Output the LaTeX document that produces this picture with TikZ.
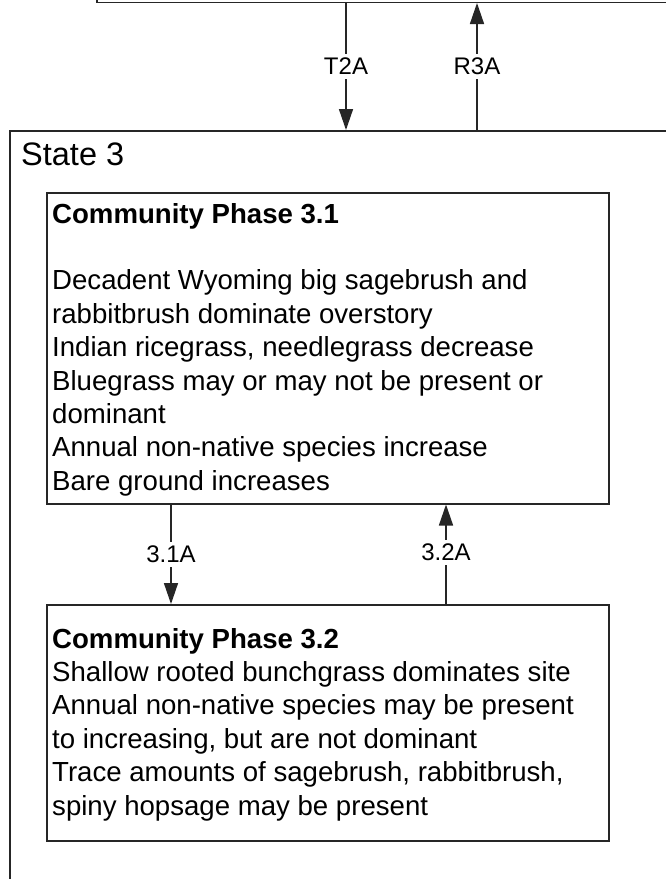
\documentclass[tikz,border=0pt]{standalone}
\usepackage{fontspec}
\setmainfont{Liberation Sans}
\usetikzlibrary{arrows.meta}
\tikzset{
  frame/.style={draw=black!85, line width=1.5pt, inner sep=0pt},
  body/.style={anchor=north west, align=left, inner sep=0pt,
    font=\fontsize{27.6}{33.4}\selectfont},
  arr/.style={draw=black!85, line width=1.5pt, -{Triangle[length=21pt,width=14pt]}},
  lbl/.style={fill=white, inner xsep=2pt, inner ysep=4pt, font=\fontsize{24}{28}\selectfont}
}
\begin{document}
\begin{tikzpicture}[x=1pt,y=-1pt]
\clip (0,0) rectangle (666,879);
\fill[white] (0,0) rectangle (666,879);
% boxes
\node[frame, anchor=south west, minimum width=700pt, minimum height=120pt] (s2) at (96,3) {};
\node[frame, anchor=north west, minimum width=720pt, minimum height=820pt] (st3) at (9,130) {};
\node[frame, anchor=north west, minimum width=562pt, minimum height=311pt] (p31) at (46,192) {};
\node[frame, anchor=north west, minimum width=562pt, minimum height=236pt] (p32) at (46,604) {};
% texts
\node[anchor=base west, inner sep=0pt, font=\fontsize{32.5}{38}\selectfont] (st3t) at (21,165) {State 3};
\node[body] (p31t) at (52,199.6) {\strut\textbf{Community Phase 3.1}\\[33.4pt]
Decadent Wyoming big sagebrush and\\
rabbitbrush dominate overstory\\
Indian ricegrass, needlegrass decrease\\
Bluegrass may or may not be present or\\
dominant\\
Annual non-native species increase\\
Bare ground increases};
\node[body] (p32t) at (52,624.6) {\strut\textbf{Community Phase 3.2}\\
Shallow rooted bunchgrass dominates site\\
Annual non-native species may be present\\
to increasing, but are not dominant\\
Trace amounts of sagebrush, rabbitbrush,\\
spiny hopsage may be present};
% connector x positions
\coordinate (xT) at (346,0);
\coordinate (xR) at (477,0);
\coordinate (xA) at (171,0);
\coordinate (xB) at (446,0);
% arrows
\draw[arr] (s2.south -| xT) -- coordinate (mT) (st3.north -| xT);
\draw[arr] (st3.north -| xR) -- coordinate (mR) (s2.south -| xR);
\draw[arr] (p31.south -| xA) -- coordinate (mA) (p32.north -| xA);
\draw[arr] (p32.north -| xB) -- coordinate (mB) (p31.south -| xB);
% labels drawn on top
\node[lbl] (lT) at (mT) {T2A};
\node[lbl] (lR) at (mR) {R3A};
\node[lbl] (lA) at (mA) {3.1A};
\node[lbl] (lB) at ([yshift=2pt]mB) {3.2A};
\end{tikzpicture}
\end{document}
